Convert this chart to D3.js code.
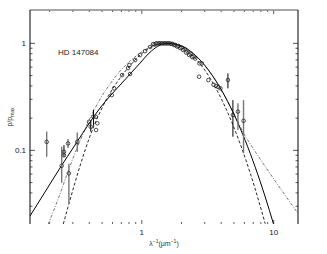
<!DOCTYPE html>
<html>
<head>
<meta charset="utf-8">
<script src="https://cdn.jsdelivr.net/npm/d3@7"></script>
<style>
  html, body { margin: 0; padding: 0; background: #fff; }
  svg { display: block; }
</style>
</head>
<body>
<script>
// observed polarization, p/pmax vs 1/lambda
const obsX = [0.19, 0.247, 0.257, 0.257, 0.276, 0.28, 0.324, 0.398, 0.41, 0.43, 0.448, 0.46, 0.45,
  0.592, 0.617, 0.805, 0.815,
  0.709, 0.787, 0.889, 0.971, 1.059, 1.156, 1.218, 1.251, 1.284, 1.318, 1.353, 1.389, 1.426, 1.464,
  1.503, 1.543, 1.584, 1.626, 1.669, 1.714, 1.759, 1.806, 1.854, 1.903, 1.954, 2.005, 2.059, 2.113,
  2.17, 2.227, 2.287, 2.347, 2.41, 2.474, 2.54,
  2.74, 2.85, 2.72, 3.2, 3.5, 3.65, 3.8, 3.95, 4.5, 4.91, 5.36, 5.91]
const obsY = [0.12, 0.0718, 0.090, 0.097, 0.116, 0.061, 0.12, 0.185, 0.166, 0.206, 0.206, 0.179, 0.155,
  0.329, 0.38, 0.627, 0.517,
  0.505, 0.588, 0.698, 0.778, 0.847, 0.924, 0.985, 0.975, 1.0, 0.996, 1.0, 1.0, 1.0, 1.0,
  1.0, 1.0, 1.0, 1.0, 0.99, 0.989, 0.964, 0.964, 0.934, 0.944, 0.904, 0.914, 0.866, 0.885,
  0.82, 0.838, 0.778, 0.794, 0.745, 0.753, 0.72,
  0.65, 0.65, 0.488, 0.454, 0.41, 0.40, 0.39, 0.38, 0.454, 0.214, 0.23, 0.189]

// error bars: [x, low, high]
const errDark = [[0.257, 0.087, 0.112], [0.43, 0.17, 0.24], [0.41, 0.15, 0.19],
  [4.5, 0.38, 0.524], [4.91, 0.134, 0.295]]
const errGrey = [[0.19, 0.087, 0.15], [0.247, 0.0497, 0.108], [0.276, 0.105, 0.128],
  [0.28, 0.032, 0.075], [0.324, 0.097, 0.147], [5.36, 0.155, 0.275], [5.91, 0.094, 0.295]]

// fitted curves
const solidX = [0.1419, 0.1844, 0.2397, 0.3114, 0.405, 0.4825, 0.5743, 0.6842, 0.815, 0.9707, 1.1164,
  1.2618, 1.377, 1.5481, 1.7896, 2.132, 2.5395, 3.0245, 3.6026, 4.2906, 5.1099, 6.0857, 7.2489, 8.6338, 9.982]
const solidY = [0.02432, 0.04076, 0.06834, 0.1121, 0.1838, 0.2485, 0.3217, 0.4076, 0.5165, 0.6545, 0.7943,
  0.9039, 0.964, 1.0, 0.985, 0.9097, 0.7757, 0.6162, 0.4578, 0.317, 0.2051, 0.1238, 0.0697, 0.03667, 0.02048]
const dashX = [0.2539, 0.2855, 0.34, 0.405, 0.4825, 0.5743, 0.6842, 0.815, 0.9707, 1.1563, 1.33,
  1.5293, 1.7896, 2.132, 2.5395, 3.0245, 3.6026, 4.2906, 5.1099, 6.0857, 7.2489, 8.6338]
const dashY = [0.02048, 0.0343, 0.0714, 0.136, 0.228, 0.343, 0.4738, 0.6202, 0.7775, 0.9136, 0.985,
  1.0, 0.985, 0.881, 0.7273, 0.5557, 0.3913, 0.2544, 0.1528, 0.0847, 0.04347, 0.0206]
const dotX = [0.1953, 0.2397, 0.2855, 0.34, 0.393, 0.4825, 0.5743, 0.6842, 0.815, 0.9707, 1.1563, 1.33,
  1.5293, 1.7896, 2.132, 2.5395, 3.0245, 3.6026, 4.2906, 5.1099, 5.9075, 6.8787, 8.192, 10.283, 15.296]
const dotY = [0.02048, 0.03904, 0.0714, 0.1222, 0.1838, 0.3016, 0.4165, 0.5509, 0.6833, 0.8116, 0.9235, 0.985,
  1.0, 0.985, 0.9136, 0.7775, 0.6135, 0.4539, 0.3149, 0.2092, 0.1451, 0.1074, 0.0777, 0.0516, 0.02578]

const yTickValues = [0.1, 1]
const xTickValues = [1, 10]

const width = 327
const height = 254
const margin = { top: 10, right: 29, bottom: 30, left: 30 }
const font = '"Liberation Sans", Arial, sans-serif'

const root = d3.select('body')
  .append('svg')
  .attr('width', width)
  .attr('height', height)

// scales work in page coordinates directly
const x = d3.scaleLog().domain([0.142, 15.3]).range([margin.left, width - margin.right])
const y = d3.scaleLog().domain([0.0205, 2.05]).range([height - margin.bottom, margin.top])
const [plotLeft, plotRight] = x.range()
const [plotBottom, plotTop] = y.range()

root.append('clipPath').attr('id', 'clip')
  .append('rect')
  .attr('x', plotLeft).attr('y', plotTop)
  .attr('width', plotRight - plotLeft).attr('height', plotBottom - plotTop)

// minor / major ticks, all pointing inward
const xMinor = d3.range(2, 10).map(d => d / 10).concat(d3.range(2, 10)).filter(d => d >= 0.142)
const yMinor = [0.03, 0.04, 0.05, 0.06, 0.07, 0.08, 0.09, 0.2, 0.3, 0.4, 0.5, 0.6, 0.7, 0.8, 0.9]

const ticks = root.append('g')
;[[plotLeft, 1], [plotRight, -1]].forEach(([x0, dir]) => {
  ticks.selectAll(null).data(yMinor).join('line')
    .attr('x1', x0).attr('x2', x0 + dir * 2.5)
    .attr('y1', d => y(d)).attr('y2', d => y(d))
    .attr('stroke', '#333').attr('stroke-width', 0.8)
  ticks.selectAll(null).data(yTickValues).join('line')
    .attr('x1', x0).attr('x2', x0 + dir * 5)
    .attr('y1', d => y(d)).attr('y2', d => y(d))
    .attr('stroke', '#555').attr('stroke-width', 1)
})
;[[plotTop, 1], [plotBottom, -1]].forEach(([y0, dir]) => {
  ticks.selectAll(null).data(xMinor).join('line')
    .attr('y1', y0).attr('y2', y0 + dir * 2)
    .attr('x1', d => x(d)).attr('x2', d => x(d))
    .attr('stroke', '#333').attr('stroke-width', 0.8)
  ticks.selectAll(null).data(xTickValues).join('line')
    .attr('y1', y0).attr('y2', y0 + dir * 4)
    .attr('x1', d => x(d)).attr('x2', d => x(d))
    .attr('stroke', '#333').attr('stroke-width', 0.8)
})

// frame: grey top, black sides, no bottom line
root.append('line').attr('x1', plotLeft).attr('x2', plotRight).attr('y1', plotTop).attr('y2', plotTop)
  .attr('stroke', '#888').attr('stroke-width', 1.5)
root.append('line').attr('x1', plotLeft).attr('x2', plotLeft).attr('y1', plotTop).attr('y2', plotBottom)
  .attr('stroke', '#000').attr('stroke-width', 1)
root.append('line').attr('x1', plotRight).attr('x2', plotRight).attr('y1', plotTop).attr('y2', plotBottom)
  .attr('stroke', '#000').attr('stroke-width', 1)

// tick labels
root.selectAll(null).data(yTickValues).join('text')
  .attr('font-family', font).attr('font-size', 8).attr('fill', '#222')
  .attr('x', plotLeft - 4).attr('y', d => y(d) + 3)
  .attr('text-anchor', 'end')
  .text(d => d)
root.selectAll(null).data(xTickValues).join('text')
  .attr('font-family', font).attr('font-size', 8).attr('fill', '#222')
  .attr('x', d => x(d)).attr('y', plotBottom + 11)
  .attr('text-anchor', 'middle')
  .text(d => d)

// axis titles
const xTitle = root.append('text')
  .attr('font-family', font).attr('font-size', 7).attr('fill', '#333')
  .attr('x', 164).attr('y', plotBottom + 22)
  .attr('text-anchor', 'middle')
xTitle.append('tspan').text('λ')
xTitle.append('tspan').attr('dy', -3).attr('font-size', 5).text('−1')
xTitle.append('tspan').attr('dy', 3).text('(μm')
xTitle.append('tspan').attr('dy', -3).attr('font-size', 5).text('−1')
xTitle.append('tspan').attr('dy', 3).text(')')

const yTitle = root.append('text')
  .attr('font-family', font).attr('font-size', 7).attr('fill', '#333')
  .attr('transform', 'translate(12, 117) rotate(-90)')
  .attr('text-anchor', 'middle')
yTitle.append('tspan').text('p/p')
yTitle.append('tspan').attr('dy', 2).attr('font-size', 5).text('max')

root.append('text')
  .attr('font-family', font).attr('font-size', 8).attr('fill', '#222')
  .attr('x', 58).attr('y', 55)
  .text('HD 147084')

// curves
const plot = root.append('g').attr('clip-path', 'url(#clip)')
const line = d3.line().curve(d3.curveMonotoneX).x(d => x(d[0])).y(d => y(d[1]))

plot.append('path').datum(d3.zip(dotX, dotY))
  .attr('d', line).attr('fill', 'none')
  .attr('stroke', '#666').attr('stroke-width', 0.9).attr('stroke-dasharray', '3,1.5,1,1.5')
plot.append('path').datum(d3.zip(dashX, dashY))
  .attr('d', line).attr('fill', 'none')
  .attr('stroke', '#111').attr('stroke-width', 0.9).attr('stroke-dasharray', '3,2')
plot.append('path').datum(d3.zip(solidX, solidY))
  .attr('d', line).attr('fill', 'none')
  .attr('stroke', '#000').attr('stroke-width', 1)

// error bars
plot.selectAll(null).data(errGrey).join('line')
  .attr('x1', d => x(d[0])).attr('x2', d => x(d[0]))
  .attr('y1', d => y(d[1])).attr('y2', d => y(d[2]))
  .attr('stroke', '#777').attr('stroke-width', 1.4)
plot.selectAll(null).data(errDark).join('line')
  .attr('x1', d => x(d[0])).attr('x2', d => x(d[0]))
  .attr('y1', d => y(d[1])).attr('y2', d => y(d[2]))
  .attr('stroke', '#000').attr('stroke-width', 1)

// points
plot.selectAll(null).data(d3.zip(obsX, obsY)).join('circle')
  .attr('cx', d => x(d[0])).attr('cy', d => y(d[1]))
  .attr('r', 1.8)
  .attr('fill', 'none')
  .attr('stroke', '#222').attr('stroke-width', 0.8)
</script>
</body>
</html>
